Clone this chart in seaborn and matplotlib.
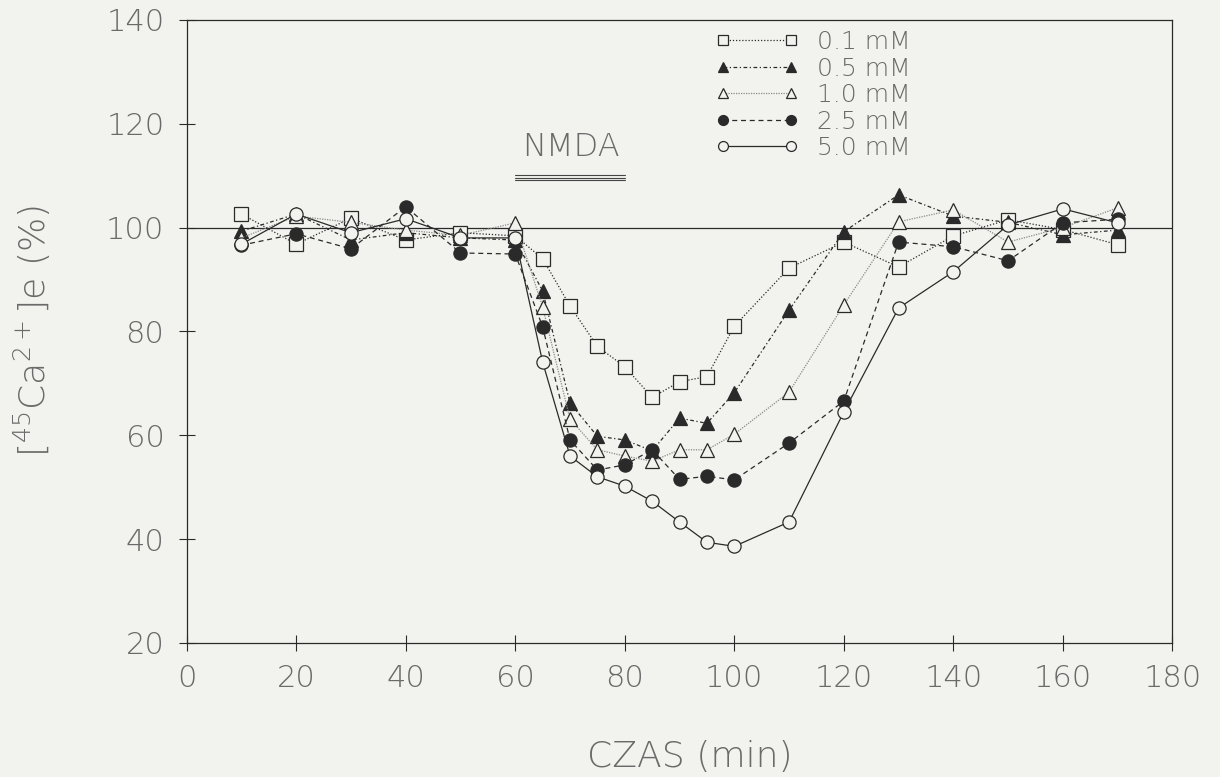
import matplotlib
matplotlib.use("Agg")
import matplotlib.pyplot as plt
import seaborn as sns
import numpy as np

time = [10, 20, 30, 40, 50, 60, 65, 70, 75, 80, 85, 90, 95, 100, 110, 120, 130, 140, 150, 160, 170]

c01 = [102.6, 96.8, 101.8, 97.6, 99.0, 98.4, 94.0, 84.9, 77.1, 73.2, 67.3, 70.3, 71.3, 81.0, 92.2, 97.2, 92.4, 98.4, 101.5, 99.6, 96.7]
c05 = [99.3, 102.6, 97.6, 99.0, 98.0, 97.6, 87.8, 66.2, 59.8, 59.1, 57.0, 63.3, 62.3, 68.2, 84.1, 99.2, 106.3, 102.2, 101.0, 98.6, 99.5]
c10 = [98.0, 102.2, 101.0, 99.5, 98.5, 100.9, 84.7, 63.1, 57.2, 56.0, 55.0, 57.2, 57.2, 60.2, 68.3, 85.1, 101.1, 103.4, 97.2, 100.0, 103.8]
c25 = [96.6, 98.8, 95.9, 104.0, 95.1, 94.9, 80.9, 59.1, 53.3, 54.3, 57.2, 51.5, 52.1, 51.4, 58.5, 66.6, 97.2, 96.3, 93.6, 100.9, 101.6]
c50 = [96.8, 102.6, 99.0, 101.7, 98.0, 98.0, 74.1, 56.0, 52.0, 50.2, 47.3, 43.3, 39.4, 38.6, 43.3, 64.5, 84.5, 91.5, 100.5, 103.6, 100.9]

labels = ["0.1 mM", "0.5 mM", "1.0 mM", "2.5 mM", "5.0 mM"]
series = [c01, c05, c10, c25, c50]

xticks = [0, 20, 40, 60, 80, 100, 120, 140, 160, 180]
yticks = [20, 40, 60, 80, 100, 120, 140]

sns.set_style("ticks")
plt.rcParams["font.family"] = ["DejaVu Sans"]
plt.rcParams["font.weight"] = 200
plt.rcParams["axes.labelweight"] = 200
plt.rcParams["mathtext.fontset"] = "dejavusans"

bg = "#f2f2ee"
ink = "#2a2a2a"
txt = "#6a6a6a"

fig = plt.figure(figsize=(12.2, 7.77), dpi=100, facecolor=bg)
ax = fig.add_axes([0.153, 0.1725, 0.808, 0.802])
ax.set_facecolor(bg)

styles = [
    dict(marker="s", mfc=bg, ls=(0, (1, 1.5)), color=ink, ms=9.5),
    dict(marker="^", mfc=ink, ls=(0, (3, 2, 1, 2)), color=ink, ms=9.5),
    dict(marker="^", mfc=bg, ls=(0, (1, 1)), color="#8a8a8a", ms=9.5),
    dict(marker="o", mfc=ink, ls=(0, (4, 3)), color=ink, ms=9.5),
    dict(marker="o", mfc=bg, ls="-", color=ink, ms=9.5),
]

for vals, lab, st in zip(series, labels, styles):
    sns.lineplot(x=time, y=vals, ax=ax, label=lab, color=st["color"], linestyle=st["ls"],
                 linewidth=0.9, marker=st["marker"], markersize=st["ms"],
                 markerfacecolor=st["mfc"], markeredgecolor=ink, markeredgewidth=0.9)

ax.axhline(100, color=ink, lw=0.9, zorder=0)

# NMDA bar
for yb in [110.1, 109.6, 109.1]:
    ax.plot([60, 80], [yb, yb], color="#444444", lw=0.8)
ax.text(70.2, 115.6, "NMDA", ha="center", va="center", fontsize=23, color=txt, fontweight=200)

ax.set_xlim(0, 180)
ax.set_ylim(20, 140)
ax.set_xticks(xticks)
ax.set_yticks(yticks)
ax.tick_params(direction="inout", length=12, width=0.8, colors=ink, labelsize=22,
               labelcolor=txt)
ax.tick_params(axis="y", pad=10)
ax.tick_params(axis="x", pad=9)
for s in ax.spines.values():
    s.set_color(ink)
    s.set_linewidth(0.9)

ax.set_xlabel("CZAS (min)", fontsize=26, color=txt, fontweight=200)
ax.xaxis.set_label_coords(0.51, -0.155)
ax.set_ylabel(r"[$^{\mathregular{45}}$Ca$^{\mathregular{2+}}$]e (%)", fontsize=26, color=txt,
              fontweight=200)
ax.yaxis.set_label_coords(-0.136, 0.5)

leg = ax.legend(loc="upper left", bbox_to_anchor=(0.5365, 0.9836), numpoints=2, frameon=False,
                fontsize=18, handlelength=3.3, handletextpad=0.75, labelspacing=0.1,
                borderpad=0, borderaxespad=0, markerscale=0.75, labelcolor=txt)
for t in leg.get_texts():
    t.set_fontweight(200)

fig.savefig("out.png", dpi=100, facecolor=bg)
